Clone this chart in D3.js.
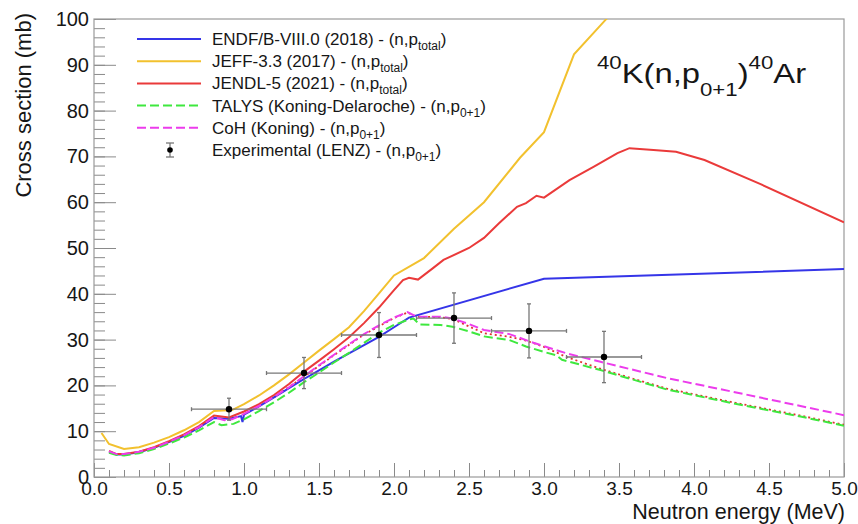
<!DOCTYPE html>
<html>
<head>
<meta charset="utf-8">
<script src="https://cdn.jsdelivr.net/npm/d3@7"></script>
<style>
    body { margin: 0; background: #fff; }
    text { font-family: "Liberation Sans", Arial, sans-serif; fill: #161616; }
</style>
</head>
<body>
<svg id="chart" width="858" height="524"></svg>
<script>
// [energy (MeV), cross section (mb)]
const endfData = [[0.1,5.5],[0.15,4.9],[0.2,4.9],[0.3,5.4],[0.4,6.4],[0.5,7.6],[0.6,9.0],[0.7,10.8],[0.8,12.9],[0.9,12.7],[0.98,13.3],[0.99,12.0],[1.0,13.6],[1.1,15.4],[1.2,17.4],[1.3,19.4],[1.4,21.4],[1.5,23.3],[1.6,25.2],[1.7,27.0],[1.8,28.8],[1.9,30.6],[2.0,32.7],[2.1,34.8],[3.0,43.3],[5.0,45.4]];
const jeffData = [[0.05,9.6],[0.1,7.2],[0.2,6.1],[0.3,6.5],[0.4,7.5],[0.5,8.7],[0.6,10.2],[0.7,12.0],[0.8,14.4],[0.92,14.6],[1.0,15.9],[1.1,17.8],[1.2,20.0],[1.3,22.4],[1.4,25.0],[1.5,27.6],[1.6,30.1],[1.7,32.7],[1.8,36.2],[1.9,40.1],[2.0,44.0],[2.2,47.8],[2.4,54.2],[2.6,60.0],[2.84,69.7],[3.0,75.3],[3.2,92.3],[3.41,99.8],[3.6,106]];
const jendlData = [[0.1,5.7],[0.15,5.0],[0.2,5.0],[0.3,5.5],[0.4,6.5],[0.5,7.8],[0.6,9.3],[0.7,11.1],[0.8,13.4],[0.9,13.0],[1.0,14.3],[1.1,15.9],[1.2,17.9],[1.3,20.3],[1.4,23.0],[1.5,25.4],[1.6,27.9],[1.7,30.5],[1.8,33.6],[1.9,37.0],[2.0,40.8],[2.06,43.0],[2.1,43.5],[2.16,43.1],[2.26,45.6],[2.33,47.4],[2.5,50.0],[2.6,52.2],[2.7,55.4],[2.82,59.0],[2.88,59.8],[2.95,61.4],[3.0,61.0],[3.17,64.8],[3.33,67.7],[3.49,70.7],[3.57,71.8],[3.73,71.4],[3.88,71.0],[4.07,69.2],[4.44,64.0],[5.0,55.6]];
const talysData = [[0.1,5.3],[0.15,4.8],[0.2,4.7],[0.3,5.2],[0.4,6.1],[0.5,7.3],[0.6,8.6],[0.7,10.2],[0.8,12.0],[0.85,11.3],[0.93,11.6],[1.0,12.6],[1.1,14.4],[1.2,16.3],[1.3,18.4],[1.4,20.7],[1.5,22.8],[1.6,25.0],[1.7,27.1],[1.8,29.3],[1.9,31.5],[2.0,33.2],[2.1,34.4],[2.13,34.6],[2.17,33.3],[2.31,33.2],[2.39,32.8],[2.5,31.8],[2.6,30.7],[2.77,29.9],[2.88,28.5],[3.0,27.3],[3.08,26.6],[3.12,25.6],[3.37,23.4],[3.6,21.2],[3.82,19.1],[4.26,16.1],[4.71,13.2],[5.0,11.2]];
const cohData = [[0.1,5.6],[0.15,5.0],[0.2,5.0],[0.3,5.5],[0.4,6.4],[0.5,7.7],[0.6,9.1],[0.7,10.9],[0.8,13.1],[0.87,12.4],[0.92,12.6],[1.0,13.8],[1.1,15.5],[1.2,17.5],[1.3,19.6],[1.4,22.0],[1.5,24.4],[1.6,26.7],[1.7,29.0],[1.8,31.2],[1.9,33.1],[2.0,34.8],[2.09,36.0],[2.15,35.0],[2.31,35.0],[2.39,34.6],[2.5,33.4],[2.6,32.1],[2.77,31.2],[2.93,29.3],[3.15,27.0],[3.37,25.2],[3.82,21.6],[4.26,18.6],[4.71,15.5],[5.0,13.5]];
// dotted red curve, not in the legend
const dottedData = [[1.2,17.4],[1.4,21.9],[1.6,26.6],[1.8,31.1],[2.0,34.7],[2.09,35.9],[2.15,35.0],[2.31,34.9],[2.39,34.5],[2.6,31.4],[2.77,30.6],[2.88,29.8],[3.0,28.4],[3.15,26.2],[3.37,23.7],[3.6,21.4],[3.82,19.3],[4.26,16.3],[4.71,13.4],[5.0,11.4]];

const expEnergy = [0.9, 1.4, 1.9, 2.4, 2.9, 3.4];
const expXs = [14.8, 22.7, 31.0, 34.7, 31.9, 26.2];
const expEnergyErr = [0.25, 0.25, 0.25, 0.25, 0.25, 0.25];
const expXsErr = [2.4, 3.4, 4.9, 5.5, 5.9, 5.6];

const xMajorTicks = [0, 0.5, 1, 1.5, 2, 2.5, 3, 3.5, 4, 4.5, 5];
const yMajorTicks = [0, 10, 20, 30, 40, 50, 60, 70, 80, 90, 100];

const series = [
    {data: endfData, color: "#3535e8", dash: null, name: "ENDF/B-VIII.0 (2018) - (n,p", sub: "total"},
    {data: jeffData, color: "#f2c12e", dash: null, name: "JEFF-3.3 (2017) - (n,p", sub: "total"},
    {data: jendlData, color: "#ea3a3a", dash: null, name: "JENDL-5 (2021) - (n,p", sub: "total"},
    {data: talysData, color: "#3ee83e", dash: "9,4", name: "TALYS (Koning-Delaroche) - (n,p", sub: "0+1"},
    {data: cohData, color: "#ec3cec", dash: "9,4", name: "CoH (Koning) - (n,p", sub: "0+1"}
];

const margin = {top: 19, right: 14, bottom: 47, left: 94};
const width = 858 - margin.left - margin.right;
const height = 524 - margin.top - margin.bottom;

const svg = d3.select("#chart");
const chart = svg.append("g").attr("transform", `translate(${margin.left},${margin.top})`);

const xScale = d3.scaleLinear().domain([0, 5]).range([0, width]);
const yScale = d3.scaleLinear().domain([0, 100]).range([height, 0]);

svg.append("defs").append("clipPath").attr("id", "plot-clip")
    .append("rect").attr("width", width).attr("height", height);

// minor ticks first, then the labelled major ticks (ROOT style, pointing inward)
const xMinor = d3.range(0, 51).map(d => d / 10);
const yMinor = d3.range(0, 101, 2);

chart.append("g").attr("transform", `translate(0,${height})`)
    .call(d3.axisBottom(xScale).tickValues(xMinor).tickSizeInner(-7).tickSizeOuter(0).tickFormat(""))
    .call(g => g.select(".domain").remove());
chart.append("g")
    .call(d3.axisLeft(yScale).tickValues(yMinor).tickSizeInner(-11).tickSizeOuter(0).tickFormat(""))
    .call(g => g.select(".domain").remove());

const xAxisG = chart.append("g").attr("transform", `translate(0,${height})`)
    .call(d3.axisBottom(xScale).tickValues(xMajorTicks).tickSizeInner(-14).tickSizeOuter(0)
        .tickPadding(5).tickFormat(d3.format(".1f")))
    .call(g => g.select(".domain").remove());
const yAxisG = chart.append("g")
    .call(d3.axisLeft(yScale).tickValues(yMajorTicks).tickSizeInner(-22).tickSizeOuter(0)
        .tickPadding(5).tickFormat(d3.format("d")))
    .call(g => g.select(".domain").remove());

chart.selectAll(".tick line").attr("stroke", "#8a8a8a");
xAxisG.selectAll("text").attr("font-size", 19).attr("fill", "#161616");
yAxisG.selectAll("text").attr("font-size", 20).attr("fill", "#161616");

// frame
chart.append("rect")
    .attr("width", width).attr("height", height)
    .attr("fill", "none").attr("stroke", "#9a9a9a").attr("stroke-width", 1.2);

const line = d3.line().x(d => xScale(d[0])).y(d => yScale(d[1]));
const plot = chart.append("g").attr("clip-path", "url(#plot-clip)");

plot.append("path").datum(dottedData)
    .attr("d", line).attr("fill", "none")
    .attr("stroke", "#e03030").attr("stroke-width", 1.8).attr("stroke-dasharray", "2,3");

series.forEach(s => {
    plot.append("path").datum(s.data)
        .attr("d", line).attr("fill", "none")
        .attr("stroke", s.color).attr("stroke-width", 2)
        .attr("stroke-dasharray", s.dash);
});

// experimental points with error bars
const errColor = "#777";
const expG = chart.append("g");
expEnergy.forEach((e, i) => {
    const cx = xScale(e), cy = yScale(expXs[i]);
    const x0 = xScale(e - expEnergyErr[i]), x1 = xScale(e + expEnergyErr[i]);
    const y0 = yScale(expXs[i] - expXsErr[i]), y1 = yScale(expXs[i] + expXsErr[i]);
    const g = expG.append("g").attr("stroke", errColor).attr("stroke-width", 1.3);
    g.append("line").attr("x1", x0).attr("x2", x1).attr("y1", cy).attr("y2", cy);
    g.append("line").attr("x1", cx).attr("x2", cx).attr("y1", y0).attr("y2", y1);
    [x0, x1].forEach(x => g.append("line").attr("x1", x).attr("x2", x).attr("y1", cy - 2).attr("y2", cy + 2));
    [y0, y1].forEach(y => g.append("line").attr("x1", cx - 2).attr("x2", cx + 2).attr("y1", y).attr("y2", y));
    expG.append("circle").attr("cx", cx).attr("cy", cy).attr("r", 3.2).attr("fill", "#000");
});

// axis titles
svg.append("text")
    .attr("x", 845).attr("y", 519)
    .attr("text-anchor", "end").attr("font-size", 21.5)
    .text("Neutron energy (MeV)");
svg.append("text")
    .attr("transform", "translate(31,13) rotate(-90)")
    .attr("text-anchor", "end").attr("font-size", 22)
    .text("Cross section (mb)");

// legend
const legend = svg.append("g").attr("transform", "translate(137,39)");
const rowH = 22.2;
series.forEach((s, i) => {
    const row = legend.append("g").attr("transform", `translate(0,${i * rowH})`);
    row.append("line").attr("x1", 0).attr("x2", 64)
        .attr("stroke", s.color).attr("stroke-width", 2).attr("stroke-dasharray", s.dash);
    const t = row.append("text").attr("x", 75).attr("y", 6).attr("font-size", 17);
    t.append("tspan").text(s.name);
    t.append("tspan").attr("font-size", 12).attr("dy", 5).text(s.sub);
    t.append("tspan").attr("dy", -5).text(")");
});
const expRow = legend.append("g").attr("transform", `translate(0,${5 * rowH})`);
expRow.append("g").attr("stroke", errColor).attr("stroke-width", 1.3)
    .call(g => {
        g.append("line").attr("x1", 33).attr("x2", 33).attr("y1", -7).attr("y2", 7);
        g.append("line").attr("x1", 29).attr("x2", 37).attr("y1", -7).attr("y2", -7);
        g.append("line").attr("x1", 29).attr("x2", 37).attr("y1", 7).attr("y2", 7);
    });
expRow.append("circle").attr("cx", 33).attr("cy", 0).attr("r", 2.8).attr("fill", "#000");
const expText = expRow.append("text").attr("x", 75).attr("y", 6).attr("font-size", 17);
expText.append("tspan").text("Experimental (LENZ) - (n,p");
expText.append("tspan").attr("font-size", 12).attr("dy", 5).text("0+1");
expText.append("tspan").attr("dy", -5).text(")");

// reaction label
const reaction = svg.append("g").attr("transform", "translate(597,83) scale(1.17,1)")
    .append("text").attr("font-size", 28);
reaction.append("tspan").attr("font-size", 19).attr("dy", -14).text("40");
reaction.append("tspan").attr("dy", 14).text("K(n,p");
reaction.append("tspan").attr("font-size", 19).attr("dy", 13).text("0+1");
reaction.append("tspan").attr("dy", -13).text(")");
reaction.append("tspan").attr("font-size", 19).attr("dy", -14).text("40");
reaction.append("tspan").attr("dy", 14).text("Ar");
</script>
</body>
</html>
